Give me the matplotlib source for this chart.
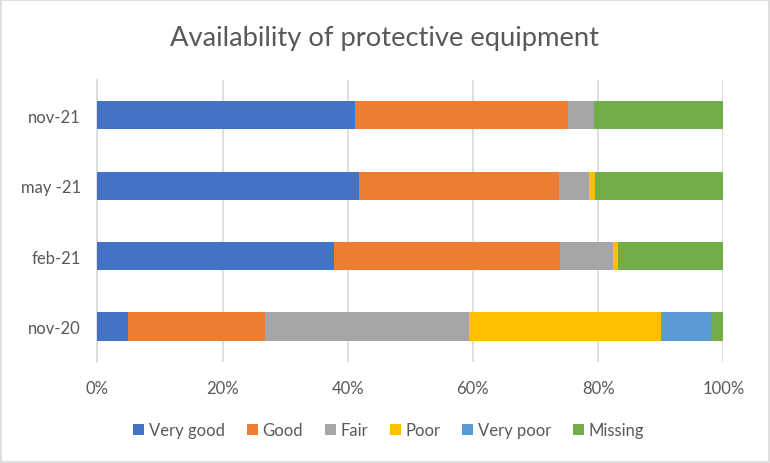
import matplotlib
matplotlib.use("Agg")
import matplotlib.pyplot as plt
from matplotlib.patches import Rectangle
import numpy as np

plt.rcParams['font.family'] = ['Lato', 'DejaVu Sans']

categories = ["nov-20", "feb-21", "may -21", "nov-21"]
series_names = ["Very good", "Good", "Fair", "Poor", "Very poor", "Missing"]
very_good = [4.9, 37.8, 41.8, 41.2]
good = [21.9, 36.1, 31.9, 34.0]
fair = [32.6, 8.4, 4.9, 4.1]
poor = [30.6, 0.8, 0.9, 0.0]
very_poor = [8.0, 0.0, 0.0, 0.0]
missing = [2.0, 16.9, 20.5, 20.7]
tick_values = [0, 20, 40, 60, 80, 100]
tick_labels = ["0%", "20%", "40%", "60%", "80%", "100%"]

colors = ["#4472C4", "#ED7D31", "#A5A5A5", "#FFC000", "#5B9BD5", "#70AD47"]
text_color = "#595959"

fig = plt.figure(figsize=(7.7, 4.64), dpi=100)
fig.patches.append(Rectangle((0.0015, 0.002), 0.997, 0.996, transform=fig.transFigure,
                             fill=False, edgecolor="#D9D9D9", linewidth=1.2))
ax = fig.add_axes([0.1264, 0.2183, 0.8130, 0.6069])

y = np.arange(len(categories))
left = np.zeros(len(categories))
for name, vals, c in zip(series_names,
                         [very_good, good, fair, poor, very_poor, missing], colors):
    vals = np.array(vals, dtype=float)
    ax.barh(y, vals, left=left, height=0.4, color=c, label=name, zorder=3)
    left += vals

ax.set_xlim(0, 100)
ax.set_ylim(-0.5, len(categories) - 0.5)
ax.set_yticks(y)
ax.set_yticklabels(categories)
ax.set_xticks(tick_values)
ax.set_xticklabels(tick_labels)
ax.tick_params(axis='both', length=0, colors=text_color, labelsize=12)
ax.tick_params(axis='y', pad=12)
ax.tick_params(axis='x', pad=13)
ax.grid(axis='x', color="#D9D9D9", linewidth=1.2, zorder=0)
for s in ["top", "right", "bottom"]:
    ax.spines[s].set_visible(False)
ax.spines["left"].set_color("#D9D9D9")
ax.spines["left"].set_linewidth(1.2)

fig.text(0.5, 0.918, "Availability of protective equipment", ha='center', va='center',
         fontsize=19.7, color=text_color)

handles, labels = ax.get_legend_handles_labels()
leg = fig.legend(handles, labels, loc='center', bbox_to_anchor=(0.505, 0.071), ncol=6,
                 frameon=False, fontsize=12, handlelength=0.65, handleheight=0.65,
                 handletextpad=0.3, columnspacing=1.3, labelcolor=text_color)

fig.savefig("out.png", dpi=100)
